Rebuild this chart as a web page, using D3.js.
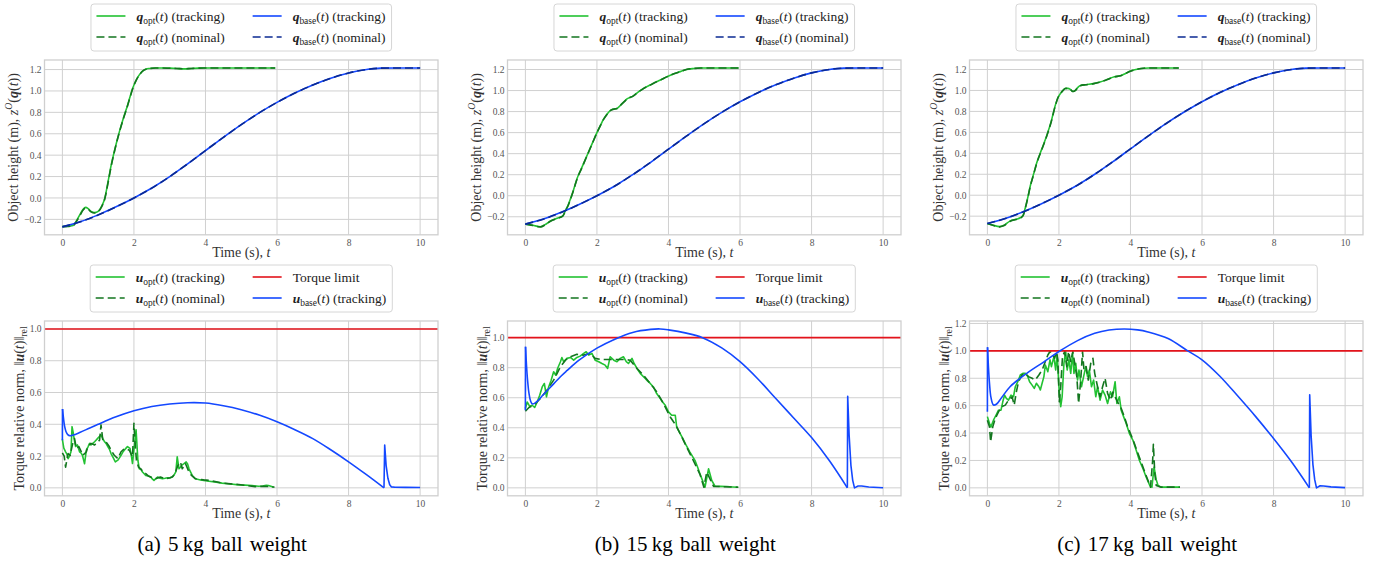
<!DOCTYPE html>
<html><head><meta charset="utf-8">
<script src="https://cdn.jsdelivr.net/npm/d3@7"></script>
<style>body{margin:0;background:#fff} svg{display:block} text{white-space:pre}</style>
</head><body>
<svg id="chart" width="1385" height="562"></svg>
<script>
// ---------------- DATA ----------------
const X_TICKS = [0, 2, 4, 6, 8, 10];
const Y_TICKS_Q = [-0.2, 0, 0.2, 0.4, 0.6, 0.8, 1.0, 1.2];
const Y_TICKS_U_A = [0, 0.2, 0.4, 0.6, 0.8, 1.0];
const Y_TICKS_U_B = [0, 0.2, 0.4, 0.6, 0.8, 1.0];
const Y_TICKS_U_C = [0, 0.2, 0.4, 0.6, 0.8, 1.0, 1.2];
const CAPTIONS = ["(a) 5\u2009kg ball weight", "(b) 15\u2009kg ball weight", "(c) 17\u2009kg ball weight"];
const TORQUE_LIMIT = 1.0;

// object height, baseline (same in all panels)
const Q_BASE_TRACK = [[0,-0.27],[0.5,-0.222],[1,-0.158],[1.5,-0.083],[2,0.0],[2.5,0.093],[3,0.2],[3.5,0.318],[4,0.443],[4.5,0.567],[5,0.686],[5.5,0.795],[6,0.893],[6.5,0.98],[7,1.055],[7.5,1.118],[8,1.168],[8.5,1.2],[8.9,1.213],[9.3,1.215],[10,1.215]];
const Q_BASE_NOM = [[0,-0.27],[0.5,-0.223],[1,-0.159],[1.5,-0.084],[2,0.0],[2.5,0.092],[3,0.2],[3.5,0.318],[4,0.443],[4.5,0.566],[5,0.685],[5.5,0.795],[6,0.893],[6.5,0.98],[7,1.055],[7.5,1.118],[8,1.168],[8.5,1.2],[8.9,1.213],[9.3,1.215],[10,1.215]];

// object height, optimized
const A_QOPT_TRACK = [[0,-0.266],[0.15,-0.265],[0.3,-0.258],[0.4,-0.21],[0.5,-0.15],[0.58,-0.105],[0.65,-0.088],[0.72,-0.1],[0.8,-0.125],[0.9,-0.137],[1.0,-0.125],[1.1,-0.075],[1.18,-0.01],[1.27,0.14],[1.36,0.3],[1.47,0.46],[1.59,0.615],[1.7,0.74],[1.82,0.865],[1.9,0.955],[1.96,1.02],[2.06,1.1],[2.15,1.15],[2.24,1.185],[2.33,1.203],[2.43,1.21],[2.6,1.214],[2.8,1.214],[3.0,1.213],[3.2,1.21],[3.4,1.206],[3.6,1.21],[3.8,1.213],[4.0,1.214],[4.5,1.215],[5.0,1.215],[5.5,1.215],[5.95,1.215]];
const A_QOPT_NOM = [[0,-0.268],[0.15,-0.266],[0.3,-0.26],[0.4,-0.215],[0.5,-0.158],[0.58,-0.112],[0.65,-0.095],[0.72,-0.105],[0.8,-0.13],[0.9,-0.14],[1.0,-0.128],[1.1,-0.08],[1.18,-0.015],[1.27,0.13],[1.36,0.29],[1.47,0.455],[1.59,0.61],[1.7,0.735],[1.82,0.86],[1.9,0.95],[1.96,1.015],[2.06,1.097],[2.15,1.148],[2.24,1.184],[2.33,1.202],[2.43,1.21],[2.6,1.214],[2.8,1.214],[3.0,1.212],[3.2,1.21],[3.4,1.207],[3.6,1.21],[3.8,1.213],[4.0,1.214],[4.5,1.215],[5.0,1.215],[5.5,1.215],[5.95,1.215]];
const B_QOPT_TRACK = [[0,-0.27],[0.2,-0.28],[0.42,-0.295],[0.55,-0.275],[0.7,-0.24],[0.93,-0.21],[1.05,-0.19],[1.12,-0.14],[1.2,-0.085],[1.26,-0.03],[1.35,0.06],[1.44,0.16],[1.58,0.27],[1.72,0.38],[1.86,0.49],[2.0,0.6],[2.1,0.67],[2.19,0.73],[2.28,0.775],[2.37,0.81],[2.47,0.825],[2.56,0.83],[2.7,0.875],[2.84,0.92],[3.02,0.95],[3.15,0.985],[3.3,1.02],[3.5,1.055],[3.67,1.085],[3.8,1.105],[3.95,1.13],[4.15,1.16],[4.33,1.18],[4.5,1.2],[4.7,1.21],[4.9,1.215],[5.2,1.215],[5.6,1.215],[5.96,1.215]];
const B_QOPT_NOM = [[0,-0.27],[0.2,-0.282],[0.42,-0.296],[0.55,-0.277],[0.7,-0.243],[0.93,-0.212],[1.05,-0.192],[1.12,-0.145],[1.2,-0.09],[1.26,-0.035],[1.35,0.055],[1.44,0.155],[1.58,0.265],[1.72,0.378],[1.86,0.488],[2.0,0.598],[2.1,0.668],[2.19,0.728],[2.28,0.773],[2.37,0.808],[2.47,0.823],[2.56,0.83],[2.7,0.873],[2.84,0.918],[3.02,0.95],[3.15,0.984],[3.3,1.019],[3.5,1.054],[3.67,1.084],[3.8,1.104],[3.95,1.13],[4.15,1.16],[4.33,1.18],[4.5,1.2],[4.7,1.21],[4.9,1.215],[5.2,1.215],[5.6,1.215],[5.96,1.215]];
const C_QOPT_TRACK = [[0,-0.27],[0.15,-0.285],[0.34,-0.3],[0.45,-0.29],[0.64,-0.245],[0.8,-0.23],[0.92,-0.215],[1.0,-0.19],[1.06,-0.12],[1.13,-0.02],[1.2,0.09],[1.29,0.2],[1.38,0.31],[1.52,0.44],[1.66,0.57],[1.78,0.7],[1.9,0.86],[1.97,0.93],[2.04,0.97],[2.11,1.0],[2.18,1.02],[2.25,1.02],[2.32,1.01],[2.39,0.99],[2.46,1.0],[2.53,1.03],[2.6,1.047],[2.75,1.055],[2.97,1.065],[3.15,1.08],[3.35,1.105],[3.55,1.13],[3.72,1.14],[3.85,1.16],[4.0,1.185],[4.15,1.2],[4.3,1.21],[4.5,1.215],[4.8,1.215],[5.1,1.215],[5.35,1.215]];
const C_QOPT_NOM = [[0,-0.27],[0.15,-0.287],[0.34,-0.302],[0.45,-0.292],[0.64,-0.248],[0.8,-0.232],[0.92,-0.218],[1.0,-0.195],[1.06,-0.125],[1.13,-0.025],[1.2,0.085],[1.29,0.195],[1.38,0.305],[1.52,0.435],[1.66,0.565],[1.78,0.695],[1.9,0.855],[1.97,0.928],[2.04,0.968],[2.11,0.998],[2.18,1.018],[2.25,1.02],[2.32,1.01],[2.39,0.99],[2.46,1.0],[2.53,1.03],[2.6,1.046],[2.75,1.055],[2.97,1.065],[3.15,1.08],[3.35,1.104],[3.55,1.13],[3.72,1.14],[3.85,1.16],[4.0,1.184],[4.15,1.2],[4.3,1.21],[4.5,1.215],[4.8,1.215],[5.1,1.215],[5.35,1.215]];

// torque relative norm, baseline
const A_UBASE = [[0,0.30],[0.004,0.496],[0.03,0.44],[0.06,0.39],[0.1,0.355],[0.15,0.335],[0.21,0.328],[0.3,0.332],[0.5,0.35],[0.75,0.375],[1.0,0.4],[1.5,0.447],[2.0,0.485],[2.5,0.512],[3.0,0.528],[3.5,0.536],[4.0,0.534],[4.5,0.517],[5.0,0.492],[5.5,0.458],[6.0,0.416],[6.5,0.366],[7.0,0.31],[7.5,0.24],[8.0,0.164],[8.5,0.083],[8.99,0.0],[9.01,0.27],[9.05,0.14],[9.1,0.06],[9.15,0.02],[9.2,0.006],[9.3,0.004],[9.6,0.003],[10,0.002]];
const B_UBASE = [[0,0.517],[0.004,0.94],[0.03,0.82],[0.06,0.72],[0.1,0.63],[0.15,0.575],[0.2,0.558],[0.3,0.57],[0.5,0.62],[0.7,0.67],[1.0,0.745],[1.16,0.78],[1.5,0.85],[2.0,0.93],[2.5,0.99],[3.0,1.035],[3.5,1.055],[3.77,1.058],[4.0,1.052],[4.5,1.03],[4.95,1.0],[5.5,0.93],[6.0,0.84],[6.5,0.725],[7.0,0.595],[7.5,0.465],[8.0,0.335],[8.5,0.18],[9.0,0.0],[9.01,0.61],[9.05,0.35],[9.1,0.15],[9.15,0.05],[9.2,0.0],[9.3,0.012],[9.4,0.012],[9.6,0.006],[10,0.001]];
const C_UBASE = [[0,0.555],[0.004,1.027],[0.03,0.88],[0.06,0.76],[0.1,0.66],[0.17,0.605],[0.25,0.61],[0.4,0.66],[0.64,0.74],[1.1,0.836],[1.58,0.92],[2.0,0.995],[2.52,1.075],[3.0,1.128],[3.4,1.152],[3.83,1.16],[4.2,1.153],[4.49,1.138],[5.05,1.09],[5.6,1.0],[6.0,0.935],[6.5,0.815],[7.0,0.67],[7.5,0.52],[8.0,0.36],[8.5,0.19],[9.0,0.0],[9.01,0.68],[9.05,0.38],[9.1,0.17],[9.15,0.06],[9.2,0.0],[9.3,0.015],[9.4,0.014],[9.6,0.007],[10,0.002]];

// torque relative norm, optimized
const A_UOPT_TRACK = [[0,0.305],[0.04,0.25],[0.09,0.227],[0.13,0.21],[0.16,0.184],[0.2,0.2],[0.24,0.227],[0.27,0.385],[0.3,0.35],[0.32,0.32],[0.35,0.28],[0.37,0.26],[0.42,0.27],[0.48,0.227],[0.52,0.22],[0.56,0.205],[0.62,0.152],[0.67,0.237],[0.72,0.26],[0.76,0.28],[0.8,0.27],[0.85,0.28],[0.9,0.29],[0.94,0.3],[0.98,0.31],[1.02,0.32],[1.08,0.333],[1.13,0.31],[1.18,0.29],[1.22,0.28],[1.27,0.26],[1.32,0.24],[1.36,0.216],[1.42,0.19],[1.48,0.163],[1.55,0.174],[1.6,0.19],[1.64,0.205],[1.69,0.225],[1.73,0.237],[1.78,0.25],[1.82,0.26],[1.89,0.248],[1.93,0.2],[1.96,0.153],[2.01,0.26],[2.06,0.365],[2.11,0.174],[2.15,0.12],[2.2,0.115],[2.24,0.1],[2.28,0.09],[2.33,0.078],[2.4,0.075],[2.47,0.068],[2.52,0.055],[2.56,0.047],[2.62,0.06],[2.66,0.068],[2.73,0.06],[2.8,0.057],[2.87,0.06],[2.94,0.064],[3.0,0.062],[3.07,0.068],[3.12,0.08],[3.17,0.1],[3.21,0.195],[3.26,0.12],[3.3,0.13],[3.33,0.142],[3.4,0.153],[3.46,0.163],[3.5,0.15],[3.54,0.12],[3.63,0.078],[3.72,0.057],[3.86,0.05],[4.0,0.045],[4.1,0.042],[4.3,0.036],[4.46,0.03],[4.7,0.024],[4.93,0.019],[5.1,0.017],[5.3,0.015],[5.48,0.01],[5.6,0.012],[5.7,0.016],[5.76,0.015],[5.85,0.008],[5.9,0.004]];
const A_UOPT_NOM = [[0,0.22],[0.05,0.2],[0.09,0.13],[0.12,0.17],[0.16,0.216],[0.22,0.205],[0.26,0.25],[0.3,0.29],[0.34,0.31],[0.39,0.248],[0.46,0.26],[0.53,0.227],[0.57,0.205],[0.62,0.215],[0.67,0.227],[0.71,0.26],[0.8,0.28],[0.9,0.27],[0.99,0.29],[1.04,0.3],[1.08,0.396],[1.13,0.3],[1.22,0.29],[1.31,0.26],[1.38,0.23],[1.45,0.205],[1.55,0.184],[1.64,0.227],[1.7,0.24],[1.76,0.248],[1.87,0.237],[1.96,0.195],[2.0,0.406],[2.04,0.26],[2.07,0.174],[2.13,0.13],[2.19,0.12],[2.26,0.1],[2.33,0.09],[2.4,0.075],[2.47,0.068],[2.6,0.057],[2.74,0.068],[2.88,0.057],[3.01,0.064],[3.08,0.07],[3.15,0.09],[3.23,0.142],[3.3,0.163],[3.35,0.12],[3.44,0.153],[3.52,0.11],[3.61,0.078],[3.72,0.057],[3.81,0.055],[3.95,0.05],[4.1,0.047],[4.3,0.038],[4.46,0.03],[4.7,0.025],[4.93,0.021],[5.15,0.014],[5.39,0.008],[5.6,0.01],[5.85,0.008],[5.93,0.004]];
const B_UOPT_TRACK = [[0,0.528],[0.05,0.572],[0.12,0.543],[0.19,0.55],[0.26,0.535],[0.33,0.572],[0.4,0.617],[0.47,0.672],[0.53,0.695],[0.59,0.606],[0.65,0.672],[0.72,0.717],[0.79,0.773],[0.85,0.75],[0.9,0.795],[0.98,0.84],[1.02,0.868],[1.07,0.84],[1.16,0.862],[1.26,0.868],[1.35,0.85],[1.44,0.868],[1.53,0.877],[1.63,0.895],[1.7,0.906],[1.77,0.884],[1.86,0.895],[1.95,0.85],[2.05,0.84],[2.14,0.828],[2.23,0.817],[2.3,0.795],[2.37,0.873],[2.47,0.85],[2.56,0.84],[2.65,0.862],[2.74,0.873],[2.82,0.84],[2.88,0.828],[2.98,0.862],[3.04,0.828],[3.12,0.795],[3.21,0.762],[3.35,0.728],[3.42,0.71],[3.49,0.695],[3.58,0.672],[3.67,0.628],[3.77,0.595],[3.84,0.57],[3.91,0.55],[4.0,0.506],[4.09,0.483],[4.19,0.483],[4.23,0.405],[4.33,0.36],[4.4,0.33],[4.47,0.294],[4.6,0.238],[4.74,0.183],[4.81,0.14],[4.88,0.094],[4.95,0.05],[5.02,0.004],[5.12,0.127],[5.21,0.049],[5.3,0.011],[5.45,0.01],[5.63,0.009],[5.8,0.006],[5.95,0.004]];
const B_UOPT_NOM = [[0,0.51],[0.1,0.535],[0.23,0.55],[0.42,0.595],[0.6,0.65],[0.79,0.717],[0.98,0.806],[1.12,0.85],[1.26,0.873],[1.44,0.889],[1.63,0.884],[1.81,0.895],[1.95,0.862],[2.1,0.855],[2.28,0.855],[2.51,0.855],[2.74,0.855],[2.93,0.85],[3.12,0.795],[3.3,0.75],[3.49,0.695],[3.67,0.64],[3.86,0.561],[4.05,0.472],[4.14,0.44],[4.2,0.42],[4.33,0.36],[4.51,0.27],[4.7,0.18],[4.88,0.09],[4.99,0.004],[5.07,0.105],[5.14,0.07],[5.26,0.01],[5.5,0.008],[5.75,0.006],[5.95,0.004]];
const C_UOPT_TRACK = [[0,0.52],[0.06,0.47],[0.1,0.445],[0.17,0.494],[0.24,0.53],[0.31,0.567],[0.38,0.567],[0.43,0.628],[0.48,0.677],[0.53,0.653],[0.59,0.64],[0.66,0.677],[0.73,0.665],[0.78,0.738],[0.85,0.775],[0.92,0.824],[0.99,0.836],[1.06,0.836],[1.13,0.812],[1.18,0.775],[1.25,0.75],[1.31,0.726],[1.37,0.763],[1.44,0.738],[1.48,0.714],[1.53,0.763],[1.58,0.812],[1.62,0.897],[1.69,0.848],[1.75,0.934],[1.79,0.885],[1.86,0.958],[1.91,0.86],[1.95,0.97],[2.0,0.738],[2.05,0.592],[2.09,0.665],[2.14,0.91],[2.19,0.995],[2.23,0.86],[2.28,0.934],[2.33,0.836],[2.38,0.983],[2.42,0.836],[2.47,0.91],[2.52,0.787],[2.56,0.86],[2.63,0.738],[2.69,0.812],[2.75,0.885],[2.8,0.812],[2.85,0.86],[2.91,0.738],[2.97,0.787],[3.03,0.665],[3.08,0.738],[3.15,0.64],[3.22,0.714],[3.29,0.677],[3.36,0.616],[3.44,0.701],[3.5,0.665],[3.57,0.775],[3.62,0.616],[3.69,0.665],[3.74,0.567],[3.81,0.518],[3.88,0.47],[3.97,0.396],[4.07,0.347],[4.16,0.274],[4.25,0.2],[4.35,0.14],[4.44,0.078],[4.54,0.017],[4.6,0.005],[4.66,0.152],[4.72,0.06],[4.77,0.017],[4.86,0.005],[5.1,0.005],[5.38,0.005]];
const C_UOPT_NOM = [[0,0.494],[0.06,0.445],[0.09,0.335],[0.15,0.445],[0.22,0.506],[0.31,0.555],[0.4,0.592],[0.5,0.604],[0.59,0.64],[0.69,0.665],[0.75,0.604],[0.81,0.7],[0.87,0.775],[0.97,0.824],[1.06,0.836],[1.15,0.812],[1.25,0.8],[1.34,0.787],[1.44,0.824],[1.53,0.86],[1.62,0.922],[1.69,0.97],[1.75,0.995],[1.81,0.983],[1.88,0.946],[1.93,0.995],[1.97,0.934],[2.01,0.628],[2.05,0.738],[2.1,0.958],[2.16,0.995],[2.22,0.885],[2.27,0.995],[2.33,0.922],[2.39,0.995],[2.44,0.91],[2.5,0.812],[2.55,0.616],[2.61,0.787],[2.66,0.995],[2.7,0.86],[2.76,0.885],[2.82,0.787],[2.89,0.91],[2.95,0.946],[3.0,0.836],[3.08,0.738],[3.15,0.665],[3.22,0.738],[3.29,0.8],[3.36,0.69],[3.44,0.64],[3.51,0.7],[3.59,0.653],[3.66,0.616],[3.74,0.58],[3.83,0.518],[3.92,0.445],[4.02,0.384],[4.11,0.323],[4.21,0.25],[4.3,0.188],[4.4,0.115],[4.49,0.054],[4.56,0.005],[4.62,0.2],[4.64,0.318],[4.68,0.103],[4.72,0.017],[4.86,0.005],[5.1,0.005],[5.38,0.005]];

// ---------------- STYLE / LAYOUT ----------------
const FONT = '"Liberation Serif","Times New Roman",serif';
const C_OPT_TR = '#22c232', C_OPT_NOM = '#13761f', C_BASE_TR = '#1448ff', C_BASE_NOM = '#0b2a92', C_LIMIT = '#e3131b';
const GRID = '#d0d0d0';
const COL_LEFT = [44.5, 507.5, 969.5];
const AX_W = 393.5;
const ROW_TOP = [60, 321];
const AX_H = 174.8;

const svg = d3.select('#chart');
svg.append('rect').attr('width', 1385).attr('height', 562).attr('fill', '#fff');

function rich(sel, segs, size) {
  let shift = 0;
  segs.forEach(([str, st]) => {
    const ts = sel.append('tspan').text(str);
    let target = 0, fs = size;
    if (st === 'sub' || st === 'subi') { target = size * 0.28; fs = size * 0.7; }
    if (st === 'sup' || st === 'supi') { target = -size * 0.42; fs = size * 0.7; }
    ts.attr('font-size', fs);
    if (st === 'bi') ts.attr('font-weight', 'bold').attr('font-style', 'italic');
    if (st === 'i' || st === 'subi' || st === 'supi') ts.attr('font-style', 'italic');
    if (target !== shift) { ts.attr('dy', target - shift); shift = target; }
  });
}

const LBL = {
  qoptTr: [['q','bi'],['opt','sub'],['(',''],['t','i'],[') (tracking)','']],
  qoptNom: [['q','bi'],['opt','sub'],['(',''],['t','i'],[') (nominal)','']],
  qbaseTr: [['q','bi'],['base','sub'],['(',''],['t','i'],[') (tracking)','']],
  qbaseNom: [['q','bi'],['base','sub'],['(',''],['t','i'],[') (nominal)','']],
  uoptTr: [['u','bi'],['opt','sub'],['(',''],['t','i'],[') (tracking)','']],
  uoptNom: [['u','bi'],['opt','sub'],['(',''],['t','i'],[') (nominal)','']],
  limit: [['Torque limit','']],
  ubaseTr: [['u','bi'],['base','sub'],['(',''],['t','i'],[') (tracking)','']]
};
const YLAB_Q = [['Object height (m), ',''],['z','i'],['O','supi'],['(',''],['q','bi'],['(',''],['t','i'],['))','']];
const YLAB_U = [['Torque relative norm, \u2016',''],['u','bi'],['(',''],['t','i'],[')\u2016',''],['rel','sub']];

// split a baseline torque series into: initial jump, smooth arc, end spike
function baseSegments(data) {
  let iz = 0, mz = Infinity;
  data.forEach((d, i) => { if (d[0] > 8 && d[0] < 9.05 && d[1] <= mz) { mz = d[1]; iz = i; } });
  return [
    {pts: data.slice(0, 2), curve: d3.curveLinear},
    {pts: data.slice(1, iz + 1), curve: d3.curveCatmullRom.alpha(0.5)},
    {pts: data.slice(iz), curve: d3.curveLinear}
  ];
}

let clipId = 0;
function panel(col, row, cfg) {
  const left = COL_LEFT[col], top = ROW_TOP[row];
  const g = svg.append('g');
  const allY = cfg.series.flatMap(s => s.data.map(d => d[1])).concat(cfg.hline != null ? [cfg.hline] : []);
  const allX = cfg.series.flatMap(s => s.data.map(d => d[0]));
  const [x0, x1] = d3.extent(allX), [y0, y1] = d3.extent(allY);
  const x = d3.scaleLinear().domain([x0 - 0.05 * (x1 - x0), x1 + 0.05 * (x1 - x0)]).range([left, left + AX_W]);
  const y = d3.scaleLinear().domain([y0 - 0.05 * (y1 - y0), y1 + 0.05 * (y1 - y0)]).range([top + AX_H, top]);

  // grid
  g.append('g').selectAll('line').data(X_TICKS).join('line')
    .attr('x1', d => x(d)).attr('x2', d => x(d)).attr('y1', top).attr('y2', top + AX_H)
    .attr('stroke', GRID).attr('stroke-width', 1);
  g.append('g').selectAll('line').data(cfg.yticks).join('line')
    .attr('y1', d => y(d)).attr('y2', d => y(d)).attr('x1', left).attr('x2', left + AX_W)
    .attr('stroke', GRID).attr('stroke-width', 1);

  // axes via d3 (labels only, no tick marks)
  const xa = g.append('g').attr('transform', `translate(0,${top + AX_H})`)
    .call(d3.axisBottom(x).tickValues(X_TICKS).tickSize(0).tickPadding(4).tickFormat(d3.format('d')));
  const ya = g.append('g').attr('transform', `translate(${left},0)`)
    .call(d3.axisLeft(y).tickValues(cfg.yticks).tickSize(0).tickPadding(3).tickFormat(d => d3.format('.1f')(d).replace('-', '\u2212')));
  [xa, ya].forEach(a => {
    a.select('.domain').remove();
    a.selectAll('text').attr('font-family', FONT).attr('font-size', 9.5).attr('fill', '#555');
  });

  // lines
  const cid = 'clip' + (clipId++);
  svg.append('clipPath').attr('id', cid).append('rect').attr('x', left).attr('y', top).attr('width', AX_W).attr('height', AX_H);
  const lg = g.append('g').attr('clip-path', `url(#${cid})`);
  cfg.order.forEach(s => {
    if (s === 'LIMIT') {
      lg.append('line').attr('x1', left).attr('x2', left + AX_W).attr('y1', y(cfg.hline)).attr('y2', y(cfg.hline))
        .attr('stroke', C_LIMIT).attr('stroke-width', 1.6);
      return;
    }
    const segs = s.base ? baseSegments(s.data)
      : [{pts: s.data, curve: s.smooth ? d3.curveMonotoneX : d3.curveLinear}];
    segs.forEach(sg => {
      const line = d3.line().x(d => x(d[0])).y(d => y(d[1])).curve(sg.curve);
      lg.append('path').datum(sg.pts).attr('d', line).attr('fill', 'none')
        .attr('stroke', s.color).attr('stroke-width', 1.6).attr('stroke-linejoin', 'round')
        .attr('stroke-dasharray', s.dash ? '8,4' : null);
    });
  });

  // frame
  g.append('rect').attr('x', left).attr('y', top).attr('width', AX_W).attr('height', AX_H)
    .attr('fill', 'none').attr('stroke', '#cfcfcf').attr('stroke-width', 1.3);

  // x label
  const cx = left + AX_W / 2;
  const xl = g.append('text').attr('x', cx).attr('y', top + AX_H + 22.5).attr('text-anchor', 'middle')
    .attr('font-family', FONT).attr('font-size', 14).attr('fill', '#333');
  rich(xl, [['Time (s), ',''],['t','i']], 14);

  // y label
  const yl = g.append('text').attr('transform', `translate(${left - cfg.ylabOff},${top + AX_H / 2}) rotate(-90)`)
    .attr('text-anchor', 'middle').attr('font-family', FONT).attr('font-size', 14).attr('fill', '#333');
  rich(yl, cfg.ylab, 14);

  // legend
  const legTop = top - 9 - 47;
  const lgG = svg.append('g');
  const box = lgG.append('rect');
  const colW = [];
  const texts = [];
  cfg.legend.forEach((colEntries, ci) => {
    let w = 0;
    colEntries.forEach((e, ri) => {
      const t = lgG.append('text').attr('font-family', FONT).attr('font-size', 13.5).attr('fill', '#222')
        .attr('y', legTop + 12 + ri * 21 + 4.5);
      rich(t, e.label, 13.5);
      w = Math.max(w, t.node().getBBox().width);
      texts.push({t, ci, ri, e});
    });
    colW.push(w);
  });
  const PAD = 5.5, HL = 29, HTP = 11, CS = 28, RP = 6;
  const totalW = PAD + HL + HTP + colW[0] + CS + HL + HTP + colW[1] + RP;
  const lx = cx - totalW / 2;
  const colX = [lx + PAD, lx + PAD + HL + HTP + colW[0] + CS];
  box.attr('x', lx).attr('y', legTop).attr('width', totalW).attr('height', 47).attr('rx', 3)
    .attr('fill', '#fff').attr('stroke', '#d6d6d6').attr('stroke-width', 1);
  texts.forEach(({t, ci, ri, e}) => {
    const yy = legTop + 12 + ri * 21;
    t.attr('x', colX[ci] + HL + HTP);
    lgG.append('line').attr('x1', colX[ci]).attr('x2', colX[ci] + HL).attr('y1', yy).attr('y2', yy)
      .attr('stroke', e.color).attr('stroke-width', 1.6).attr('stroke-dasharray', e.dash ? '8,4' : null);
  });
}

const QSERIES = [
  [A_QOPT_TRACK, A_QOPT_NOM], [B_QOPT_TRACK, B_QOPT_NOM], [C_QOPT_TRACK, C_QOPT_NOM]
];
const USERIES = [
  [A_UOPT_TRACK, A_UOPT_NOM, A_UBASE, Y_TICKS_U_A],
  [B_UOPT_TRACK, B_UOPT_NOM, B_UBASE, Y_TICKS_U_B],
  [C_UOPT_TRACK, C_UOPT_NOM, C_UBASE, Y_TICKS_U_C]
];

for (let c = 0; c < 3; c++) {
  const s1 = {data: QSERIES[c][0], color: C_OPT_TR, smooth: true};
  const s2 = {data: QSERIES[c][1], color: C_OPT_NOM, dash: true, smooth: true};
  const s3 = {data: Q_BASE_TRACK, color: C_BASE_TR, smooth: true};
  const s4 = {data: Q_BASE_NOM, color: C_BASE_NOM, dash: true, smooth: true};
  panel(c, 0, {
    series: [s1, s2, s3, s4], order: [s1, s2, s3, s4], yticks: Y_TICKS_Q, ylab: YLAB_Q, ylabOff: 27,
    legend: [[{label: LBL.qoptTr, color: C_OPT_TR}, {label: LBL.qoptNom, color: C_OPT_NOM, dash: true}],
             [{label: LBL.qbaseTr, color: C_BASE_TR}, {label: LBL.qbaseNom, color: C_BASE_NOM, dash: true}]]
  });
  const u1 = {data: USERIES[c][0], color: C_OPT_TR};
  const u2 = {data: USERIES[c][1], color: C_OPT_NOM, dash: true};
  const u3 = {data: USERIES[c][2], color: C_BASE_TR, base: true};
  panel(c, 1, {
    series: [u1, u2, u3], hline: TORQUE_LIMIT, order: [u1, u2, 'LIMIT', u3], yticks: USERIES[c][3], ylab: YLAB_U, ylabOff: 21,
    legend: [[{label: LBL.uoptTr, color: C_OPT_TR}, {label: LBL.uoptNom, color: C_OPT_NOM, dash: true}],
             [{label: LBL.limit, color: C_LIMIT}, {label: LBL.ubaseTr, color: C_BASE_TR}]]
  });
  svg.append('text').attr('x', COL_LEFT[c] + AX_W / 2 - 19).attr('y', 551).attr('text-anchor', 'middle')
    .attr('font-family', FONT).attr('font-size', 21).attr('fill', '#000').attr('word-spacing', 2)
    .text(CAPTIONS[c]);
}
</script></body></html>
